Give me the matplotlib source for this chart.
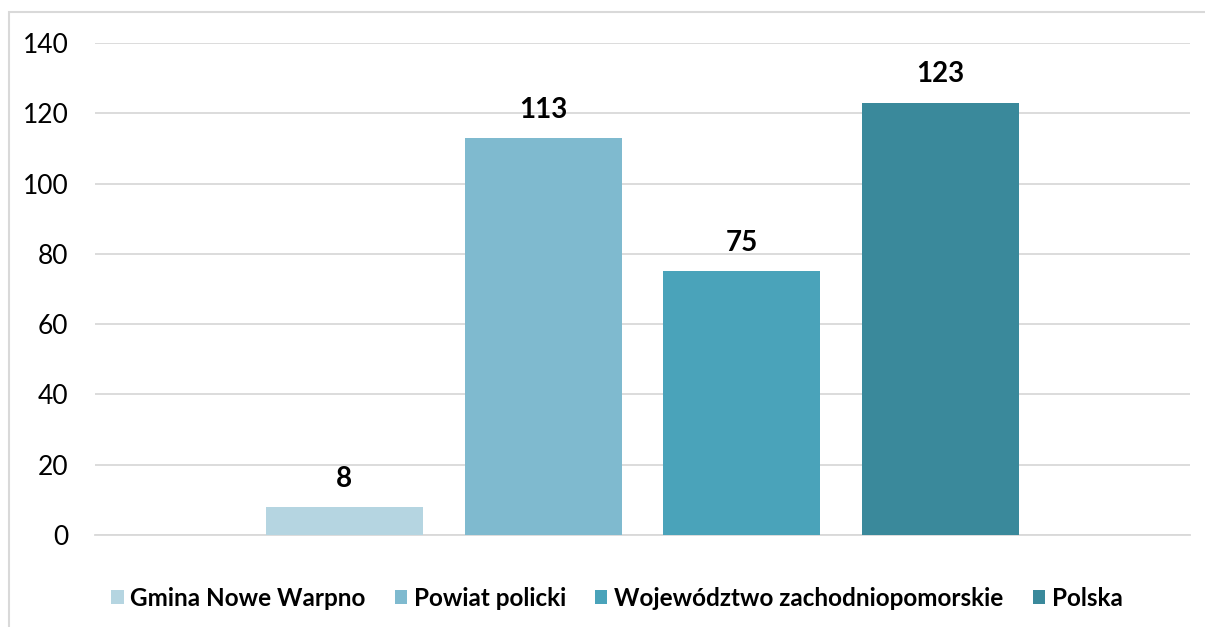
import matplotlib.pyplot as plt
from matplotlib.patches import Rectangle

plt.rcParams['font.family'] = ['Lato', 'DejaVu Sans']

series = ['Gmina Nowe Warpno', 'Powiat policki', 'Województwo zachodniopomorskie', 'Polska']
values = [8, 113, 75, 123]
colors = ['#B5D5E1', '#7FBACF', '#4AA3BA', '#3A899B']
yticks = [0, 20, 40, 60, 80, 100, 120, 140]

fig = plt.figure(figsize=(12.05, 6.27), dpi=100)

# outer chart frame (runs past the right and bottom edges)
frame = Rectangle((9 / 1205, -0.05), 1.1, 1 - 12 / 627 + 0.05, transform=fig.transFigure,
                  fill=False, edgecolor='#D9D9D9', linewidth=1.5)
fig.patches.append(frame)

ax = fig.add_axes([95 / 1205, 1 - 535 / 627, (1190 - 95) / 1205, (535 - 43) / 627])

width = 157 / 199
for i, (name, v, c) in enumerate(zip(series, values, colors)):
    ax.bar(i, v, width=width, color=c, label=name, zorder=3)
    ax.annotate(str(v), (i, v), xytext=(0, 11), textcoords='offset points',
                ha='center', va='bottom', fontsize=20, fontweight='bold', color='black')

ax.set_xlim(-1.254, 4.254)
ax.set_ylim(0, 140)
ax.set_yticks(yticks)
ax.set_xticks([])
ax.tick_params(axis='y', length=0, pad=19, labelsize=19)
ax.grid(axis='y', color='#D9D9D9', linewidth=1.3, zorder=0)
for s in ['top', 'right', 'left']:
    ax.spines[s].set_visible(False)
ax.spines['bottom'].set_color('#D9D9D9')
ax.spines['bottom'].set_linewidth(1.3)

leg = fig.legend(loc='center', bbox_to_anchor=(617 / 1205, 1 - 598 / 627), ncol=4, frameon=False,
                 prop={'size': 17.5, 'weight': 'bold'}, handlelength=0.5, handleheight=0.5,
                 handletextpad=0.28, columnspacing=1.2)

fig.savefig('out.png', dpi=100)
